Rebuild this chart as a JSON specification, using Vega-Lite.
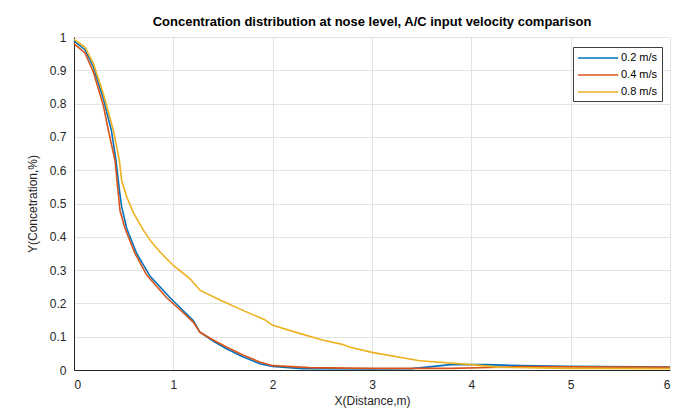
{
  "$schema": "https://vega.github.io/schema/vega-lite/v6.json",
  "width": 596,
  "height": 333,
  "autosize": {"type": "none"},
  "padding": {"left": 74, "top": 37, "right": 22, "bottom": 44},
  "background": "white",
  "title": {
    "text": "Concentration distribution at nose level, A/C input velocity comparison",
    "font": "Liberation Sans",
    "fontSize": 13,
    "fontWeight": "bold",
    "color": "#000000",
    "anchor": "middle",
    "offset": 2
  },
  "config": {
    "view": {"stroke": null},
    "font": "Liberation Sans",
    "axis": {
      "labelFont": "Liberation Sans",
      "titleFont": "Liberation Sans",
      "labelFontSize": 12,
      "titleFontSize": 12,
      "labelColor": "#262626",
      "titleColor": "#262626",
      "titleFontWeight": "normal",
      "domainColor": "#262626",
      "tickColor": "#262626",
      "gridColor": "#e3e3e3",
      "gridWidth": 1
    }
  },
  "data": {
    "values": [
      {"x": 0, "y": 0.988, "s": "0.2 m/s"},
      {"x": 0.11, "y": 0.962, "s": "0.2 m/s"},
      {"x": 0.195, "y": 0.91, "s": "0.2 m/s"},
      {"x": 0.295, "y": 0.815, "s": "0.2 m/s"},
      {"x": 0.376, "y": 0.72, "s": "0.2 m/s"},
      {"x": 0.423, "y": 0.629, "s": "0.2 m/s"},
      {"x": 0.457, "y": 0.54, "s": "0.2 m/s"},
      {"x": 0.48, "y": 0.49, "s": "0.2 m/s"},
      {"x": 0.531, "y": 0.425, "s": "0.2 m/s"},
      {"x": 0.631, "y": 0.35, "s": "0.2 m/s"},
      {"x": 0.765, "y": 0.282, "s": "0.2 m/s"},
      {"x": 0.967, "y": 0.217, "s": "0.2 m/s"},
      {"x": 1.1, "y": 0.178, "s": "0.2 m/s"},
      {"x": 1.2, "y": 0.149, "s": "0.2 m/s"},
      {"x": 1.266, "y": 0.114, "s": "0.2 m/s"},
      {"x": 1.4, "y": 0.087, "s": "0.2 m/s"},
      {"x": 1.535, "y": 0.064, "s": "0.2 m/s"},
      {"x": 1.7, "y": 0.04, "s": "0.2 m/s"},
      {"x": 1.87, "y": 0.019, "s": "0.2 m/s"},
      {"x": 2.0, "y": 0.011, "s": "0.2 m/s"},
      {"x": 2.3, "y": 0.004, "s": "0.2 m/s"},
      {"x": 3.0, "y": 0.003, "s": "0.2 m/s"},
      {"x": 3.4, "y": 0.004, "s": "0.2 m/s"},
      {"x": 3.6, "y": 0.01, "s": "0.2 m/s"},
      {"x": 3.79, "y": 0.016, "s": "0.2 m/s"},
      {"x": 4.15, "y": 0.016, "s": "0.2 m/s"},
      {"x": 4.5, "y": 0.013, "s": "0.2 m/s"},
      {"x": 4.96, "y": 0.011, "s": "0.2 m/s"},
      {"x": 6.0, "y": 0.009, "s": "0.2 m/s"},

      {"x": 0, "y": 0.98, "s": "0.4 m/s"},
      {"x": 0.11, "y": 0.952, "s": "0.4 m/s"},
      {"x": 0.195, "y": 0.895, "s": "0.4 m/s"},
      {"x": 0.295, "y": 0.795, "s": "0.4 m/s"},
      {"x": 0.346, "y": 0.72, "s": "0.4 m/s"},
      {"x": 0.413, "y": 0.629, "s": "0.4 m/s"},
      {"x": 0.463, "y": 0.479, "s": "0.4 m/s"},
      {"x": 0.514, "y": 0.425, "s": "0.4 m/s"},
      {"x": 0.614, "y": 0.35, "s": "0.4 m/s"},
      {"x": 0.732, "y": 0.285, "s": "0.4 m/s"},
      {"x": 0.933, "y": 0.217, "s": "0.4 m/s"},
      {"x": 1.0, "y": 0.199, "s": "0.4 m/s"},
      {"x": 1.1, "y": 0.172, "s": "0.4 m/s"},
      {"x": 1.2, "y": 0.144, "s": "0.4 m/s"},
      {"x": 1.266, "y": 0.114, "s": "0.4 m/s"},
      {"x": 1.4, "y": 0.09, "s": "0.4 m/s"},
      {"x": 1.535, "y": 0.069, "s": "0.4 m/s"},
      {"x": 1.7, "y": 0.045, "s": "0.4 m/s"},
      {"x": 1.87, "y": 0.024, "s": "0.4 m/s"},
      {"x": 2.0, "y": 0.013, "s": "0.4 m/s"},
      {"x": 2.37, "y": 0.007, "s": "0.4 m/s"},
      {"x": 3.0, "y": 0.005, "s": "0.4 m/s"},
      {"x": 3.8, "y": 0.005, "s": "0.4 m/s"},
      {"x": 4.5, "y": 0.01, "s": "0.4 m/s"},
      {"x": 6.0, "y": 0.008, "s": "0.4 m/s"},

      {"x": 0, "y": 0.993, "s": "0.8 m/s"},
      {"x": 0.11, "y": 0.97, "s": "0.8 m/s"},
      {"x": 0.195, "y": 0.92, "s": "0.8 m/s"},
      {"x": 0.295, "y": 0.83, "s": "0.8 m/s"},
      {"x": 0.396, "y": 0.72, "s": "0.8 m/s"},
      {"x": 0.457, "y": 0.629, "s": "0.8 m/s"},
      {"x": 0.48, "y": 0.569, "s": "0.8 m/s"},
      {"x": 0.53, "y": 0.52, "s": "0.8 m/s"},
      {"x": 0.6, "y": 0.471, "s": "0.8 m/s"},
      {"x": 0.698, "y": 0.42, "s": "0.8 m/s"},
      {"x": 0.78, "y": 0.384, "s": "0.8 m/s"},
      {"x": 0.864, "y": 0.355, "s": "0.8 m/s"},
      {"x": 1.0, "y": 0.314, "s": "0.8 m/s"},
      {"x": 1.168, "y": 0.274, "s": "0.8 m/s"},
      {"x": 1.27, "y": 0.239, "s": "0.8 m/s"},
      {"x": 1.47, "y": 0.21, "s": "0.8 m/s"},
      {"x": 1.7, "y": 0.179, "s": "0.8 m/s"},
      {"x": 1.92, "y": 0.151, "s": "0.8 m/s"},
      {"x": 2.0, "y": 0.134, "s": "0.8 m/s"},
      {"x": 2.27, "y": 0.11, "s": "0.8 m/s"},
      {"x": 2.5, "y": 0.09, "s": "0.8 m/s"},
      {"x": 2.7, "y": 0.077, "s": "0.8 m/s"},
      {"x": 2.78, "y": 0.068, "s": "0.8 m/s"},
      {"x": 3.0, "y": 0.053, "s": "0.8 m/s"},
      {"x": 3.48, "y": 0.028, "s": "0.8 m/s"},
      {"x": 4.0, "y": 0.016, "s": "0.8 m/s"},
      {"x": 4.29, "y": 0.008, "s": "0.8 m/s"},
      {"x": 5.0, "y": 0.005, "s": "0.8 m/s"},
      {"x": 6.0, "y": 0.004, "s": "0.8 m/s"}
    ]
  },
  "mark": {"type": "line", "strokeWidth": 1.6},
  "encoding": {
    "x": {
      "field": "x",
      "type": "quantitative",
      "scale": {"domain": [0, 6], "nice": false},
      "axis": {"title": "X(Distance,m)", "values": [0, 1, 2, 3, 4, 5, 6], "tickSize": 0, "labelPadding": 9, "titlePadding": 5}
    },
    "y": {
      "field": "y",
      "type": "quantitative",
      "scale": {"domain": [0, 1], "nice": false},
      "axis": {"title": "Y(Concetration,%)", "values": [0, 0.1, 0.2, 0.3, 0.4, 0.5, 0.6, 0.7, 0.8, 0.9, 1], "format": ".1~f", "tickSize": 0, "labelPadding": 8, "titlePadding": 10}
    },
    "color": {
      "field": "s",
      "type": "nominal",
      "scale": {"domain": ["0.2 m/s", "0.4 m/s", "0.8 m/s"], "range": ["#0072BD", "#D95319", "#EDB120"]},
      "legend": {
        "title": null,
        "orient": "none",
        "legendX": 499,
        "legendY": 10,
        "symbolType": "M-1,0H5.7",
        "symbolSize": 144,
        "symbolStrokeWidth": 1.6,
        "labelFont": "Liberation Sans",
        "labelFontSize": 11,
        "labelColor": "#000000",
        "strokeColor": "#404040",
        "fillColor": "white",
        "padding": 4,
        "rowPadding": 5,
        "symbolOffset": 0,
        "labelOffset": 30
      }
    }
  }
}
